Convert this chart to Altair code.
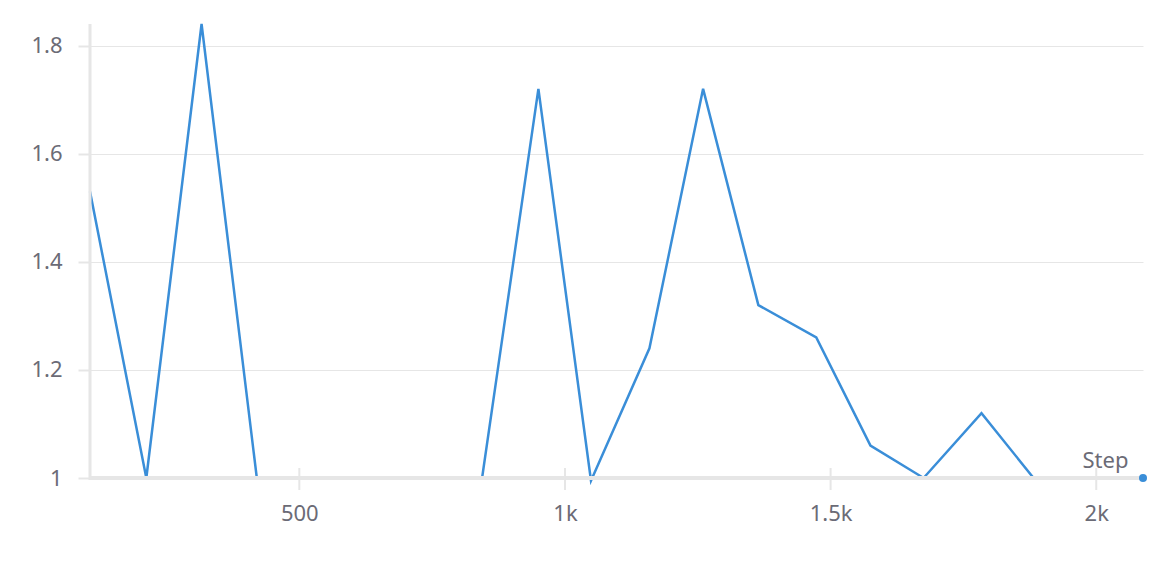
import altair as alt
import pandas as pd

steps = [106, 212, 316, 420, 525, 630, 735, 844, 950, 1049, 1159, 1260, 1364, 1473, 1575, 1675, 1784, 1882, 1987, 2088]
values = [1.53, 1.0, 1.84, 1.0, 1.0, 1.0, 1.0, 1.0, 1.72, 0.995, 1.24, 1.72, 1.32, 1.26, 1.06, 1.0, 1.12, 1.0, 1.0, 1.0]
x_ticks = [500, 1000, 1500, 2000]
y_ticks = [1.0, 1.2, 1.4, 1.6, 1.8]

df = pd.DataFrame({"Step": steps, "value": values})
last = df.tail(1)
tick_df = pd.DataFrame({"t": x_ticks})

LINE = "#3a8ed8"
GRAY = "#e6e6e6"
TXT = "#6b6b76"
FONT = "Noto Sans"
W, H = 1053, 454

xscale = alt.Scale(domain=[106, 2088], nice=False, zero=False)
yscale = alt.Scale(domain=[1.0, 1.84], nice=False, zero=False)

xaxis = alt.Axis(
    values=x_ticks,
    labelExpr="datum.value >= 1000 ? format(datum.value / 1000, '~g') + 'k' : format(datum.value, 'd')",
    ticks=False, grid=False, domain=False,
    labelColor=TXT, labelFont=FONT, labelFontSize=22, labelPadding=25,
    title="Step", titleFont=FONT, titleFontSize=22, titleFontWeight="normal",
    titleColor=TXT, titleX=1015, titleY=-11, titleAlign="center",
    titleBaseline="alphabetic",
)
yaxis = alt.Axis(
    values=y_ticks, format="~g",
    ticks=True, tickSize=12, tickColor=GRAY, tickWidth=2,
    grid=True, gridColor=GRAY, gridWidth=1, domain=False,
    labelColor=TXT, labelFont=FONT, labelFontSize=22, labelPadding=16,
    title=None,
)

line = alt.Chart(df).mark_line(color=LINE, strokeWidth=2.5, clip=False).encode(
    x=alt.X("Step:Q", scale=xscale, axis=xaxis),
    y=alt.Y("value:Q", scale=yscale, axis=yaxis),
)

xdomain = alt.Chart(last).mark_rule(color=GRAY, strokeWidth=4, opacity=1).encode(
    x=alt.value(0), x2=alt.value(W), y=alt.value(H),
)
ydomain = alt.Chart(last).mark_rule(color=GRAY, strokeWidth=3, opacity=1).encode(
    x=alt.value(0), y=alt.value(0), y2=alt.value(H + 2),
)

xt = alt.Chart(tick_df).mark_rule(color=GRAY, strokeWidth=2, opacity=1).encode(
    x=alt.X("t:Q", scale=xscale),
    y=alt.value(H - 10),
    y2=alt.value(H + 12),
)

dot = alt.Chart(last).mark_circle(color=LINE, size=64, opacity=1).encode(
    x=alt.X("Step:Q", scale=xscale),
    y=alt.Y("value:Q", scale=yscale),
)

chart = alt.layer(line, xdomain, ydomain, xt, dot).properties(
    width=W, height=H,
    autosize=alt.AutoSizeParams(type="none"),
    padding={"left": 82, "top": 16, "right": 4, "bottom": 60},
).configure_view(stroke=None)

chart.save("out.html", embed_options={"renderer": "svg", "actions": False})
